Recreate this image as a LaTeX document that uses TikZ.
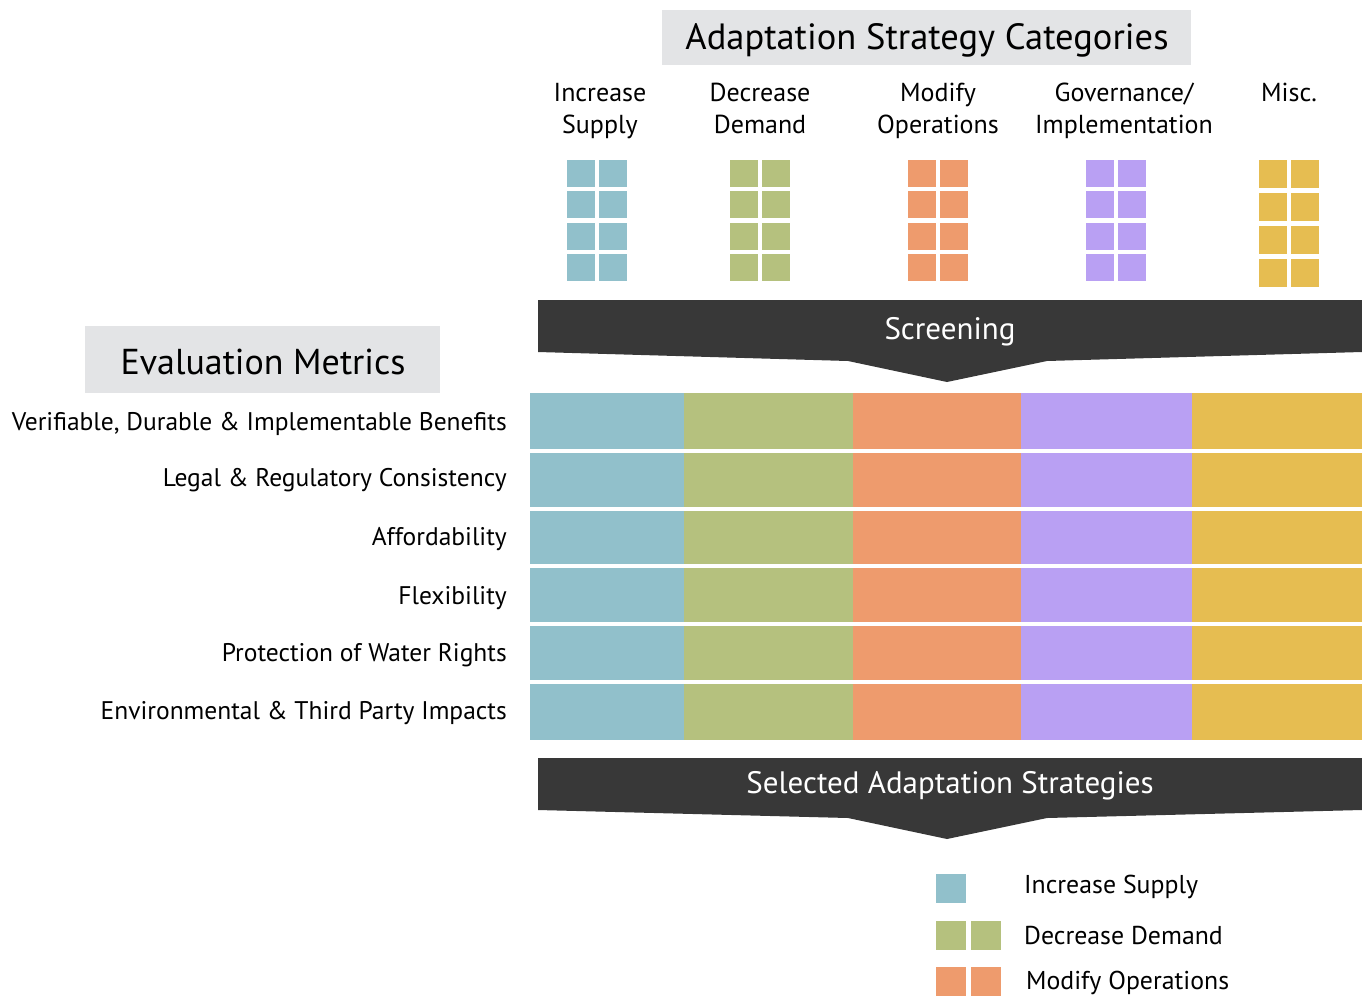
\documentclass[tikz,border=0pt]{standalone}
\usepackage{fontspec}
\setmainfont{PT Sans}
\usetikzlibrary{positioning}
\definecolor{supply}{HTML}{91C0CB}
\definecolor{demand}{HTML}{B5C17E}
\definecolor{operate}{HTML}{EE9B6D}
\definecolor{govern}{HTML}{B9A0F3}
\definecolor{misc}{HTML}{E6BD51}
\definecolor{boxgray}{HTML}{E3E4E6}
\definecolor{banner}{HTML}{383838}

\begin{document}
\begin{tikzpicture}[x=1pt,y=-1pt,
    headbox/.style={fill=boxgray,inner sep=0pt},
    colhead/.style={align=center,anchor=north,inner sep=0pt,font=\fontsize{26}{32}\selectfont},
    metric/.style={anchor=east,inner sep=0pt,font=\fontsize{25.5}{28}\selectfont},
    bantext/.style={text=white,inner sep=0pt,font=\fontsize{31}{34}\selectfont},
    legtext/.style={anchor=west,inner sep=0pt,font=\fontsize{25.8}{28}\selectfont}]
\useasboundingbox (0,0) rectangle (1362,996);

% headings
\node[headbox,minimum width=529pt,minimum height=55pt] (cattitle) at (926.5,37.5) {};
\node (cattext) [font=\fontsize{36.5}{40}\selectfont,inner sep=0pt] at (927,40) {Adaptation Strategy Categories};
\node[headbox,minimum width=355pt,minimum height=67pt] (evaltitle) at (262.5,359.5) {};
\node (evaltext) [font=\fontsize{36}{40}\selectfont,inner sep=0pt] at (263,362) {Evaluation Metrics};

% category names
\node[colhead] (incsup) at (600,83) {Increase\\Supply};
\node[colhead] (decdem) at (760,83) {Decrease\\Demand};
\node[colhead] (modops) at (938,83) {Modify\\Operations};
\node[colhead] (govimp) at (1124,83) {Governance/\\Implementation};
\node[colhead] (misc) at (1289,83) {Misc.};

% strategy blocks
\foreach \cx/\cc in {567/supply,730/demand,908/operate,1086/govern}{
  \foreach \r in {0,...,3}{
    \fill[\cc] (\cx,160+31.3*\r) rectangle +(28,27);
    \fill[\cc] (\cx+32,160+31.3*\r) rectangle +(28,27);
  }
}
\foreach \r in {0,...,3}{
  \fill[misc] (1259,160+33*\r) rectangle +(28,28);
  \fill[misc] (1291,160+33*\r) rectangle +(28,28);
}

% screening banner
\fill[banner] (538,300) -- (1362,300) -- (1362,352) -- (1047,361) -- (947,382)
  -- (848,361) -- (538,352) -- cycle;
\node[bantext] (screen) at (950,332) {Screening};

% evaluation matrix
\foreach \ya/\yb in {393/449,453/507,511/564,568/622,626/680,684/740}{
  \fill[supply] (530,\ya) rectangle (684,\yb);
  \fill[demand] (684,\ya) rectangle (853,\yb);
  \fill[operate] (853,\ya) rectangle (1021,\yb);
  \fill[govern] (1021,\ya) rectangle (1192,\yb);
  \fill[misc] (1192,\ya) rectangle (1362,\yb);
}

% metric labels
\node[metric] (benefits) at (507,424) {Verifiable, Durable \& Implementable Benefits};
\node[metric] (legal) at (507,480) {Legal \& Regulatory Consistency};
\node[metric] (afford) at (507,539) {Affordability};
\node[metric] (flex) at (507,598) {Flexibility};
\node[metric] (rights) at (507,655) {Protection of Water Rights};
\node[metric] (impacts) at (507,713) {Environmental \& Third Party Impacts};

% selected banner
\fill[banner] (538,758) -- (1362,758) -- (1362,810) -- (1047,818) -- (947,839)
  -- (848,818) -- (538,810) -- cycle;
\node[bantext] (selected) at (950,786) {Selected Adaptation Strategies};

% legend
\fill[supply] (936,874) rectangle (966,903);
\fill[demand] (936,921) rectangle (966,950);
\fill[demand] (971,921) rectangle (1001,950);
\fill[operate] (936,967) rectangle (966,996);
\fill[operate] (971,967) rectangle (1001,996);
\node[legtext] (legsup) at (1024,887) {Increase Supply};
\node[legtext] (legdem) at (1024,936) {Decrease Demand};
\node[legtext] (legops) at (1026,983) {Modify Operations};
\end{tikzpicture}
\end{document}
